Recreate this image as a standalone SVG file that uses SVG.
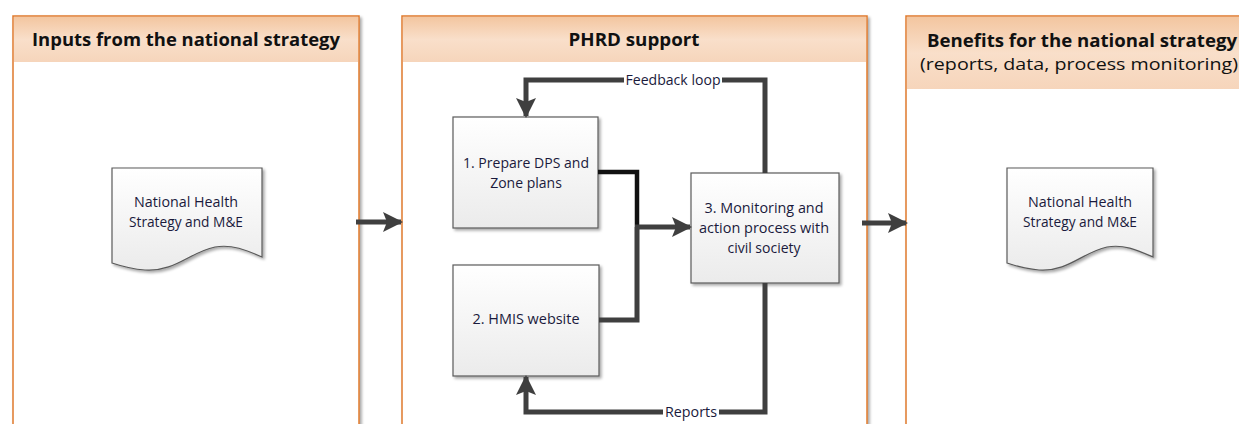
<svg xmlns="http://www.w3.org/2000/svg" width="1239" height="424" viewBox="0 0 1239 424">
  <defs>
    <linearGradient id="hdr" x1="0" y1="0" x2="0" y2="1">
      <stop offset="0" stop-color="#f3c6a0"/>
      <stop offset="0.5" stop-color="#f9dfca"/>
      <stop offset="1" stop-color="#f6d5bb"/>
    </linearGradient>
    <linearGradient id="boxfill" x1="0" y1="0" x2="0" y2="1">
      <stop offset="0" stop-color="#ffffff"/>
      <stop offset="1" stop-color="#ebebeb"/>
    </linearGradient>
    <filter id="shadow" x="-10%" y="-10%" width="125%" height="125%">
      <feGaussianBlur in="SourceAlpha" stdDeviation="1.5"/>
      <feOffset dx="2" dy="2" result="b"/>
      <feComponentTransfer><feFuncA type="linear" slope="0.35"/></feComponentTransfer>
      <feMerge><feMergeNode/><feMergeNode in="SourceGraphic"/></feMerge>
    </filter>
    <marker id="arrow" viewBox="0 0 10 10" refX="9" refY="5" markerWidth="4" markerHeight="4" orient="auto" markerUnits="strokeWidth">
      <path d="M0,0 L10,5 L0,10 L2,5 Z" fill="#3f3f3f"/>
    </marker>
  </defs>
  <style>
    .panel { fill: #ffffff; stroke: #e07a2c; stroke-width: 1.5; }
    .hdr { fill: url(#hdr); }
    .title { font-family: "Open Sans", "Noto Sans", sans-serif; font-weight: bold; font-size: 17px; fill: #111; text-anchor: middle; }
    .sub { font-family: "Open Sans", "Noto Sans", sans-serif; font-size: 17px; fill: #111; text-anchor: middle; }
    .box { fill: url(#boxfill); stroke: #5a5a5a; stroke-width: 1.2; }
    .lbl { font-family: "Open Sans", "Noto Sans", sans-serif; font-size: 14px; font-weight: 500; fill: #1a1a3c; text-anchor: middle; }
    .conn { fill: none; stroke: #3f3f3f; stroke-width: 5; stroke-linejoin: miter; }
    .tag { fill: #ffffff; }
  </style>

  <!-- swimlane panels -->
  <g id="panel-inputs">
    <rect class="panel" x="13" y="16" width="346" height="420" filter="url(#shadow)"/>
    <rect class="hdr" x="14" y="17" width="344" height="45"/>
    <text class="title" x="186" y="46" textLength="308" lengthAdjust="spacingAndGlyphs">Inputs from the national strategy</text>
  </g>
  <g id="panel-phrd">
    <rect class="panel" x="402" y="16" width="465" height="420" filter="url(#shadow)"/>
    <rect class="hdr" x="403" y="17" width="463" height="45"/>
    <text class="title" x="634" y="46" textLength="131" lengthAdjust="spacingAndGlyphs">PHRD support</text>
  </g>
  <g id="panel-benefits">
    <rect class="panel" x="906" y="16" width="345" height="420" filter="url(#shadow)"/>
    <rect class="hdr" x="907" y="17" width="343" height="72"/>
    <text class="title" x="1082" y="47" textLength="310" lengthAdjust="spacingAndGlyphs">Benefits for the national strategy</text>
    <text class="sub" x="1079" y="70" textLength="318" lengthAdjust="spacingAndGlyphs">(reports, data, process monitoring)</text>
  </g>

  <!-- document nodes -->
  <g id="doc-input">
    <path class="box" filter="url(#shadow)" d="M112,168 H262 V257 C246,250 232,244 215,247 C190,252 175,272 145,270 C131,269 121,266 112,263 Z"/>
    <text class="lbl" x="186" y="207" textLength="104" lengthAdjust="spacingAndGlyphs">National Health</text>
    <text class="lbl" x="186" y="227" textLength="114" lengthAdjust="spacingAndGlyphs">Strategy and M&amp;E</text>
  </g>
  <g id="doc-output">
    <path class="box" filter="url(#shadow)" d="M1007,168 H1153 V257 C1137,250 1124,244 1107,247 C1083,252 1068,272 1039,270 C1025,269 1016,266 1007,263 Z"/>
    <text class="lbl" x="1080" y="207" textLength="104" lengthAdjust="spacingAndGlyphs">National Health</text>
    <text class="lbl" x="1080" y="227" textLength="114" lengthAdjust="spacingAndGlyphs">Strategy and M&amp;E</text>
  </g>

  <!-- process nodes -->
  <g id="step-1">
    <rect class="box" x="453" y="117" width="145" height="111" filter="url(#shadow)"/>
    <text class="lbl" x="526" y="168" textLength="126" lengthAdjust="spacingAndGlyphs">1. Prepare DPS and</text>
    <text class="lbl" x="526" y="188">Zone plans</text>
  </g>
  <g id="step-2">
    <rect class="box" x="453" y="265" width="146" height="111" filter="url(#shadow)"/>
    <text class="lbl" x="526" y="324" textLength="107" lengthAdjust="spacingAndGlyphs">2. HMIS website</text>
  </g>
  <g id="step-3">
    <rect class="box" x="691" y="173" width="148" height="110" filter="url(#shadow)"/>
    <text class="lbl" x="764" y="213" textLength="119" lengthAdjust="spacingAndGlyphs">3. Monitoring and</text>
    <text class="lbl" x="764" y="233" textLength="130" lengthAdjust="spacingAndGlyphs">action process with</text>
    <text class="lbl" x="764" y="253">civil society</text>
  </g>

  <!-- connectors -->
  <g id="connectors">
    <line class="conn" x1="356" y1="222" x2="401" y2="222" marker-end="url(#arrow)"/>
    <line class="conn" x1="862" y1="223" x2="906" y2="223" marker-end="url(#arrow)"/>
    <polyline class="conn" points="598,172 637,172 637,227" style="stroke:#111;stroke-width:4.5"/>
    <polyline class="conn" points="599,320 637,320 637,227"/>
    <line class="conn" x1="635" y1="227" x2="690" y2="227" marker-end="url(#arrow)"/>
    <polyline class="conn" points="765,173 765,80 526,80 526,116" marker-end="url(#arrow)"/>
    <polyline class="conn" points="765,283 765,412 526,412 526,377" marker-end="url(#arrow)"/>
    <rect class="tag" x="624" y="73" width="98" height="14"/>
    <text class="lbl" x="673" y="85" textLength="95" lengthAdjust="spacingAndGlyphs">Feedback loop</text>
    <rect class="tag" x="663" y="405" width="56" height="14"/>
    <text class="lbl" x="691" y="417" textLength="52" lengthAdjust="spacingAndGlyphs">Reports</text>
  </g>
</svg>
